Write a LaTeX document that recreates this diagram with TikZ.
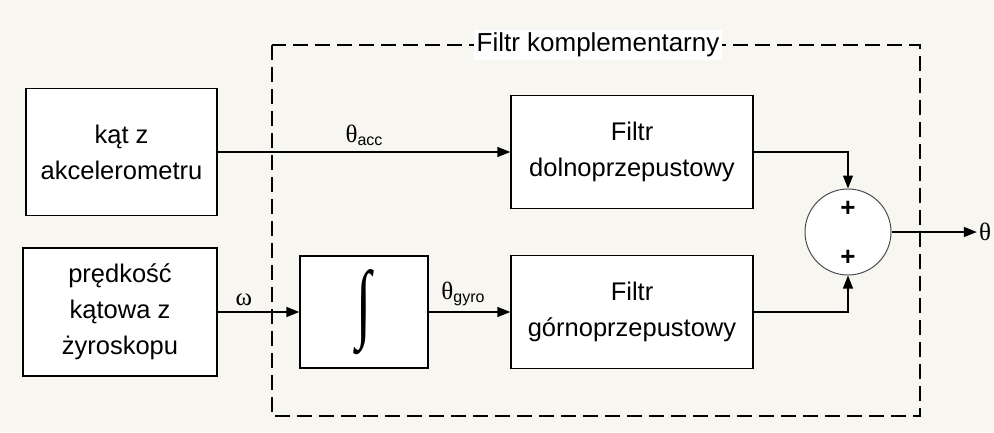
\documentclass[tikz,border=0pt]{standalone}
\usepackage{fontspec}
\setmainfont{Liberation Sans}
\newfontfamily\grecki{Liberation Serif}
\usetikzlibrary{calc,positioning,arrows.meta}
\definecolor{tlo}{RGB}{248,246,240}

\begin{document}
\begin{tikzpicture}[x=1pt,y=-1pt,
  blok/.style={draw,fill=white,line width=1.3pt,align=center,inner sep=0pt,font=\fontsize{25.5}{36}\selectfont},
  strz/.style={line width=1.3pt,-{Triangle[length=13pt,width=10pt]}},
  lbl/.style={font=\fontsize{25}{25}\selectfont\grecki}]
  \useasboundingbox[fill=tlo] (0,0) rectangle (994,432);
  % --- ramka: filtr komplementarny ---
  \draw[line width=2.8pt,dash pattern=on 15pt off 7pt] (272,45) rectangle (920,416);
  \node[fill=white,inner sep=3pt,font=\fontsize{26}{26}\selectfont] (tytul) at (598,45) {Filtr komplementarny};
  % --- wejscia ---
  \node[blok,minimum width=191pt,minimum height=127pt] (acc) at (121.5,152) {kąt z\\akcelerometru};
  \node[blok,minimum width=194pt,minimum height=128pt] (gyro) at (120,312) {prędkość\\kątowa z\\żyroskopu};
  % --- bloki filtru ---
  \node[blok,minimum width=128pt,minimum height=112pt] (calka) at (364,312) {\resizebox{15pt}{62pt}{\grecki ∫}};
  \node[blok,minimum width=242pt,minimum height=113pt] (dolno) at (632,152) {Filtr\\dolnoprzepustowy};
  \node[blok,minimum width=242pt,minimum height=113pt] (gorno) at (632,312) {Filtr\\górnoprzepustowy};
  \node[circle,draw=black!70,fill=white,line width=1pt,minimum size=86pt,inner sep=0pt] (suma) at (848,232) {};
  \node[font=\fontsize{26}{26}\selectfont\bfseries] (plus1) at (848,209) {+};
  \node[font=\fontsize{26}{26}\selectfont\bfseries] (plus2) at (848,258) {+};
  \node[lbl,inner sep=2pt] (theta) at (985,232) {θ};
  % --- polaczenia ---
  \draw[strz] (acc.east) -- node[lbl,above=2pt] {θ\raisebox{-3pt}{\fontsize{16}{16}\selectfont\rmfamily acc}} (dolno.west);
  \draw[strz] (gyro.east) -- node[lbl,above=2pt,pos=0.32] {ω} (calka.west);
  \draw[strz] (calka.east) -- node[lbl,above=2pt,pos=0.42] {θ\raisebox{-3pt}{\fontsize{16}{16}\selectfont\rmfamily gyro}} (gorno.west);
  \draw[strz] (dolno.east) -| (suma.north);
  \draw[strz] (gorno.east) -| (suma.south);
  \draw[strz] (suma.east) -- (theta.west);
\end{tikzpicture}
\end{document}
